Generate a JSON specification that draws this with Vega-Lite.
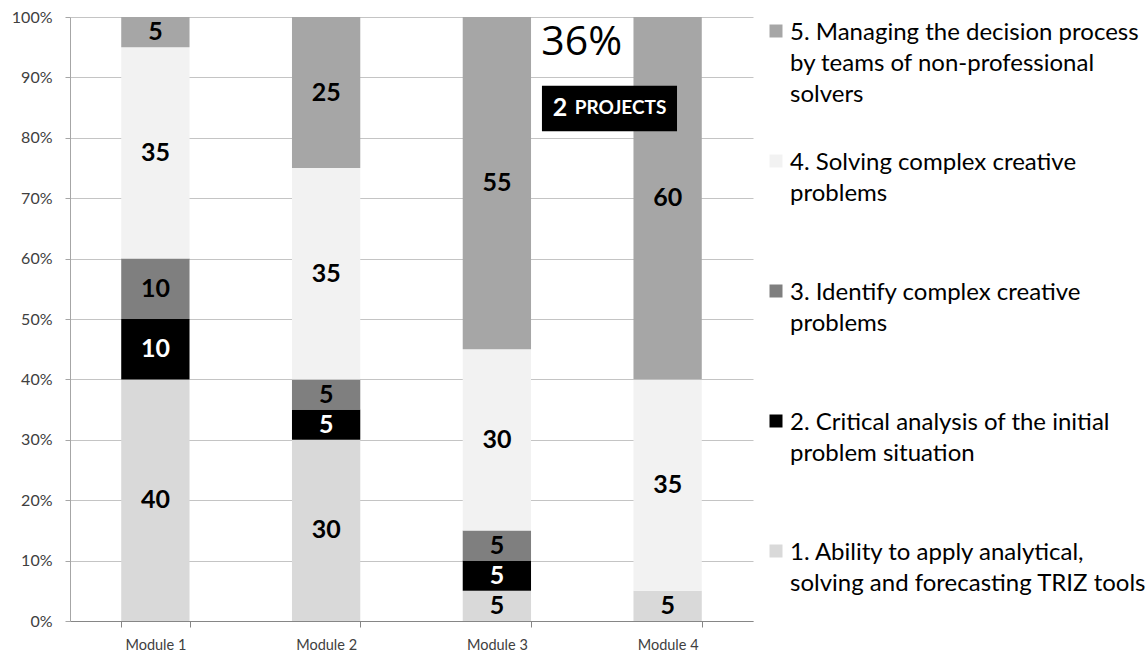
{
  "$schema": "https://vega.github.io/schema/vega-lite/v6.json",
  "width": 683,
  "height": 604,
  "autosize": {"type": "none"},
  "padding": {"left": 70, "top": 17, "right": 394, "bottom": 31},
  "background": "white",
  "config": {
    "font": "Lato",
    "view": {"stroke": null},
    "legend": {
      "orient": "none",
      "legendX": 694,
      "legendY": 2,
      "padding": 0,
      "symbolType": "square",
      "symbolSize": 169,
      "symbolStrokeWidth": 0,
      "labelFont": "Lato",
      "labelFontSize": 24,
      "labelColor": "#000000",
      "labelLimit": 600,
      "labelOffset": 2,
      "labelBaseline": "top",
      "rowPadding": 42
    }
  },
  "resolve": {"scale": {"x": "independent"}},
  "layer": [
    {
      "data": {
        "values": [
          {"module": "Module 1", "cat": "1. Ability to apply analytical, solving and forecasting TRIZ tools", "v": 40},
          {"module": "Module 1", "cat": "2. Critical analysis of the initial problem situation", "v": 10},
          {"module": "Module 1", "cat": "3. Identify complex creative problems", "v": 10},
          {"module": "Module 1", "cat": "4. Solving complex creative problems", "v": 35},
          {"module": "Module 1", "cat": "5. Managing the decision process by teams of non-professional solvers", "v": 5},
          {"module": "Module 2", "cat": "1. Ability to apply analytical, solving and forecasting TRIZ tools", "v": 30},
          {"module": "Module 2", "cat": "2. Critical analysis of the initial problem situation", "v": 5},
          {"module": "Module 2", "cat": "3. Identify complex creative problems", "v": 5},
          {"module": "Module 2", "cat": "4. Solving complex creative problems", "v": 35},
          {"module": "Module 2", "cat": "5. Managing the decision process by teams of non-professional solvers", "v": 25},
          {"module": "Module 3", "cat": "1. Ability to apply analytical, solving and forecasting TRIZ tools", "v": 5},
          {"module": "Module 3", "cat": "2. Critical analysis of the initial problem situation", "v": 5},
          {"module": "Module 3", "cat": "3. Identify complex creative problems", "v": 5},
          {"module": "Module 3", "cat": "4. Solving complex creative problems", "v": 30},
          {"module": "Module 3", "cat": "5. Managing the decision process by teams of non-professional solvers", "v": 55},
          {"module": "Module 4", "cat": "1. Ability to apply analytical, solving and forecasting TRIZ tools", "v": 5},
          {"module": "Module 4", "cat": "4. Solving complex creative problems", "v": 35},
          {"module": "Module 4", "cat": "5. Managing the decision process by teams of non-professional solvers", "v": 60}
        ]
      },
      "encoding": {
        "x": {
          "field": "module",
          "type": "nominal",
          "scale": {"paddingInner": 0.6, "paddingOuter": 0.3},
          "axis": {
            "title": null,
            "labelAngle": 0,
            "labelFontSize": 14.5,
            "labelColor": "#404040",
            "tickBand": "extent",
            "tickSize": 6,
            "tickColor": "#868686",
            "domainColor": "#868686",
            "labelPadding": 11,
            "grid": false
          }
        },
        "order": {"field": "cat", "sort": "ascending"}
      },
      "layer": [
        {
          "mark": {"type": "bar"},
          "encoding": {
            "y": {
              "field": "v",
              "type": "quantitative",
              "stack": "normalize",
              "scale": {"domain": [0, 1]},
              "axis": {
                "title": null,
                "format": ".0%",
                "values": [0, 0.1, 0.2, 0.3, 0.4, 0.5, 0.6, 0.7, 0.8, 0.9, 1],
                "labelFontSize": 16,
                "labelColor": "#404040",
                "gridColor": "#c4c4c4",
                "domainColor": "#a6a6a6",
                "tickColor": "#a6a6a6",
                "tickSize": 5,
                "labelPadding": 13
              }
            },
            "color": {
              "field": "cat",
              "type": "nominal",
              "scale": {
                "domain": [
                  "5. Managing the decision process by teams of non-professional solvers",
                  "4. Solving complex creative problems",
                  "3. Identify complex creative problems",
                  "2. Critical analysis of the initial problem situation",
                  "1. Ability to apply analytical, solving and forecasting TRIZ tools"
                ],
                "range": ["#a6a6a6", "#f2f2f2", "#7f7f7f", "#000000", "#d9d9d9"]
              },
              "legend": {
                "title": null,
                "labelExpr": "substring(datum.label,0,1) == '5' ? ['5. Managing the decision process', 'by teams of non-professional', 'solvers'] : substring(datum.label,0,1) == '4' ? ['4. Solving complex creative', 'problems', ' '] : substring(datum.label,0,1) == '3' ? ['3. Identify complex creative', 'problems', ' '] : substring(datum.label,0,1) == '2' ? ['2. Critical analysis of the initial', 'problem situation', ' '] : ['1. Ability to apply analytical,', 'solving and forecasting TRIZ tools', ' ']",
                "encode": {"labels": {"update": {"lineHeight": {"value": 31}, "dy": {"value": -10}}}}
              }
            }
          }
        },
        {
          "mark": {"type": "text", "fontSize": 25, "fontWeight": "bold", "baseline": "middle"},
          "encoding": {
            "y": {"field": "v", "type": "quantitative", "stack": "normalize", "bandPosition": 0.5},
            "text": {"field": "v", "type": "quantitative"},
            "color": {
              "condition": {"test": "substring(datum.cat,0,1) == '2'", "value": "#ffffff"},
              "value": "#000000"
            }
          }
        }
      ]
    },
    {
      "data": {"values": [{"note": "36%"}]},
      "mark": {"type": "text", "fontSize": 41, "baseline": "middle", "color": "#000000", "font": "Open Sans"},
      "encoding": {
        "x": {"datum": 2.997, "type": "quantitative", "scale": {"domain": [0, 4]}, "axis": null},
        "y": {"datum": 0.957, "type": "quantitative"},
        "text": {"field": "note"}
      }
    },
    {
      "data": {"values": [{"note": "2 PROJECTS", "num": "2", "word": "PROJECTS"}]},
      "encoding": {
        "y": {"datum": 0.849, "type": "quantitative"}
      },
      "layer": [
        {
          "mark": {"type": "rect", "color": "#000000"},
          "encoding": {
            "x": {"datum": 2.764, "type": "quantitative", "scale": {"domain": [0, 4]}, "axis": null},
            "x2": {"datum": 3.555},
            "y": {"datum": 0.811, "type": "quantitative"},
            "y2": {"datum": 0.886}
          }
        },
        {
          "mark": {"type": "text", "fontSize": 25, "fontWeight": "bold", "color": "#ffffff", "baseline": "middle"},
          "encoding": {
            "x": {"datum": 2.870, "type": "quantitative", "scale": {"domain": [0, 4]}, "axis": null},
            "text": {"field": "num"}
          }
        },
        {
          "mark": {"type": "text", "fontSize": 19, "fontWeight": "bold", "color": "#ffffff", "baseline": "middle"},
          "encoding": {
            "x": {"datum": 3.224, "type": "quantitative", "scale": {"domain": [0, 4]}, "axis": null},
            "text": {"field": "word"}
          }
        }
      ]
    }
  ]
}
